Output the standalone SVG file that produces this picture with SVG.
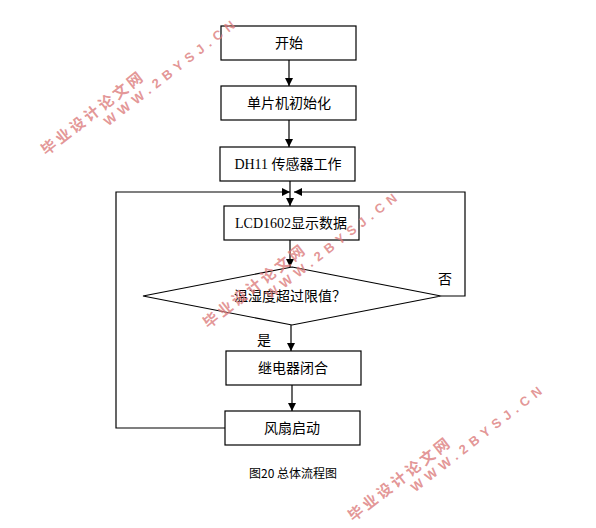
<svg xmlns="http://www.w3.org/2000/svg" width="596" height="528" viewBox="0 0 596 528">
<style>
.box{fill:#fff;stroke:#000;stroke-width:1.2}
.ln{fill:none;stroke:#000;stroke-width:1.2}
.t{font-family:"Noto Sans CJK SC","Liberation Sans",sans-serif;font-size:14px;fill:#000;text-anchor:middle}
.lat{font-family:"Liberation Serif",serif}
.cap{font-family:"Noto Sans CJK SC","Liberation Sans",sans-serif;font-size:12px;fill:#000;text-anchor:middle}
.wm1{font-family:"Noto Sans CJK SC",sans-serif;font-weight:bold;font-size:15px;fill:#dc7c7c;fill-opacity:0.8}
.wm2{font-family:"Liberation Sans",sans-serif;font-weight:bold;font-size:13px;fill:#dc7c7c;fill-opacity:0.8}
</style>
<defs>
<marker id="ah" markerWidth="8" markerHeight="8" refX="8" refY="4" orient="auto" markerUnits="userSpaceOnUse">
<path d="M0,0 L8,4 L0,8 Z" fill="#000"/>
</marker>
</defs>
<rect width="596" height="528" fill="#fff"/>
<g id="connectors">
<line class="ln" x1="289" y1="60" x2="289" y2="86" marker-end="url(#ah)"/>
<line class="ln" x1="289" y1="120" x2="289" y2="147" marker-end="url(#ah)"/>
<line class="ln" x1="290" y1="181" x2="290" y2="206" marker-end="url(#ah)"/>
<line class="ln" x1="290" y1="240" x2="290" y2="267" marker-end="url(#ah)"/>
<line class="ln" x1="291" y1="325" x2="291" y2="351" marker-end="url(#ah)"/>
<line class="ln" x1="292" y1="385" x2="292" y2="411" marker-end="url(#ah)"/>
<polyline class="ln" points="441,296 465,296 465,192 294,192" marker-end="url(#ah)"/>
<polyline class="ln" points="225,428 116,428 116,192 290,192" marker-end="url(#ah)"/>
<text class="t" x="445" y="284">否</text>
<text class="t" x="264" y="345">是</text>
</g>
<g id="n1"><rect class="box" x="221" y="26" width="135" height="34"/><text class="t" x="289" y="48">开始</text></g>
<g id="n2"><rect class="box" x="221" y="86" width="135" height="34"/><text class="t" x="289" y="108">单片机初始化</text></g>
<g id="n3"><rect class="box" x="220" y="147" width="135" height="34"/><text class="t" x="288" y="169"><tspan class="lat">DH11 </tspan>传感器工作</text></g>
<g id="n4"><rect class="box" x="224" y="206" width="135" height="34"/><text class="t" x="291" y="228"><tspan class="lat">LCD1602</tspan>显示数据</text></g>
<g id="n5"><polygon class="box" points="292,267 441,296 292,325 143,296"/><text class="t" x="290" y="301">温湿度超过限值？</text></g>
<g id="n6"><rect class="box" x="226" y="351" width="135" height="34"/><text class="t" x="293" y="373">继电器闭合</text></g>
<g id="n7"><rect class="box" x="225" y="411" width="135" height="34"/><text class="t" x="292" y="433">风扇启动</text></g>
<text class="cap" x="293" y="478">图20 总体流程图</text>
<g id="watermarks">
<g transform="translate(48,147) rotate(-38)"><text class="wm1" x="-7" y="6" textLength="124" lengthAdjust="spacing">毕业设计论文网</text><text class="wm2" x="60" y="21" textLength="162" lengthAdjust="spacing">WWW.2BYSJ.CN</text></g>
<g transform="translate(210,320) rotate(-38)"><text class="wm1" x="-7" y="6" textLength="124" lengthAdjust="spacing">毕业设计论文网</text><text class="wm2" x="60" y="21" textLength="162" lengthAdjust="spacing">WWW.2BYSJ.CN</text></g>
<g transform="translate(355,513) rotate(-38)"><text class="wm1" x="-7" y="6" textLength="124" lengthAdjust="spacing">毕业设计论文网</text><text class="wm2" x="60" y="21" textLength="162" lengthAdjust="spacing">WWW.2BYSJ.CN</text></g>
</g>
</svg>
